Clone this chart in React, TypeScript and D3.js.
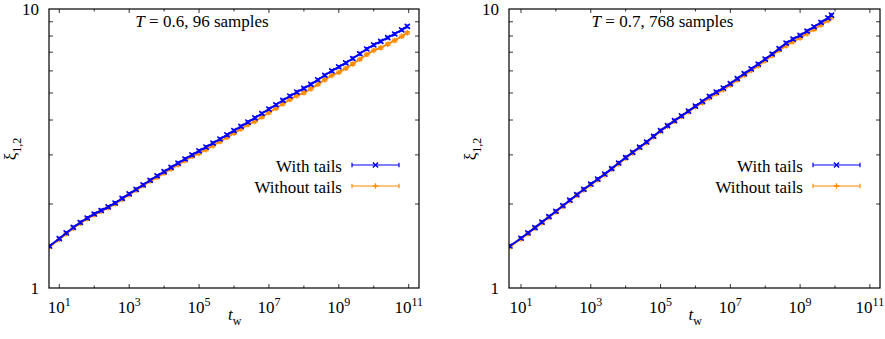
import React, { useEffect, useState } from 'react';
import * as d3 from 'd3';

// log10(t_w) positions
const leftLogTw = [0.72, 1.0, 1.2, 1.4, 1.6, 1.8, 2.0, 2.2, 2.4, 2.6, 2.8, 3.0, 3.2, 3.4, 3.6, 3.8, 4.0, 4.2, 4.4, 4.6, 4.8, 5.0, 5.2, 5.4, 5.6, 5.8, 6.0, 6.2, 6.4, 6.6, 6.8, 7.0, 7.2, 7.4, 7.6, 7.8, 8.0, 8.2, 8.4, 8.6, 8.8, 9.0, 9.2, 9.4, 9.6, 9.8, 10.0, 10.2, 10.4, 10.6, 10.8, 10.96];
const leftWithTails = [1.414, 1.504, 1.575, 1.648, 1.717, 1.782, 1.842, 1.896, 1.954, 2.017, 2.094, 2.175, 2.257, 2.344, 2.433, 2.525, 2.614, 2.706, 2.802, 2.900, 3.002, 3.100, 3.199, 3.304, 3.420, 3.541, 3.666, 3.795, 3.929, 4.071, 4.221, 4.377, 4.537, 4.703, 4.877, 5.035, 5.197, 5.370, 5.575, 5.788, 6.002, 6.206, 6.415, 6.647, 6.912, 7.189, 7.436, 7.660, 7.891, 8.136, 8.422, 8.670];
const leftWithoutTails = [1.405, 1.494, 1.565, 1.637, 1.706, 1.770, 1.830, 1.884, 1.941, 2.004, 2.080, 2.161, 2.242, 2.329, 2.417, 2.494, 2.582, 2.673, 2.768, 2.864, 2.965, 3.037, 3.134, 3.237, 3.350, 3.469, 3.591, 3.718, 3.849, 3.955, 4.101, 4.252, 4.408, 4.569, 4.738, 4.892, 5.007, 5.174, 5.371, 5.577, 5.783, 5.930, 6.130, 6.352, 6.605, 6.870, 7.106, 7.260, 7.479, 7.711, 7.982, 8.217];

const rightLogTw = [0.68, 1.0, 1.2, 1.4, 1.6, 1.8, 2.0, 2.2, 2.4, 2.6, 2.8, 3.0, 3.2, 3.4, 3.6, 3.8, 4.0, 4.2, 4.4, 4.6, 4.8, 5.0, 5.2, 5.4, 5.6, 5.8, 6.0, 6.2, 6.4, 6.6, 6.8, 7.0, 7.2, 7.4, 7.6, 7.8, 8.0, 8.2, 8.4, 8.6, 8.8, 9.0, 9.2, 9.4, 9.6, 9.8, 9.9];
const rightWithTails = [1.414, 1.508, 1.575, 1.646, 1.722, 1.801, 1.884, 1.972, 2.064, 2.160, 2.259, 2.355, 2.455, 2.560, 2.679, 2.806, 2.936, 3.065, 3.197, 3.337, 3.499, 3.666, 3.821, 3.978, 4.139, 4.306, 4.484, 4.669, 4.863, 5.033, 5.205, 5.405, 5.635, 5.870, 6.100, 6.343, 6.614, 6.898, 7.213, 7.547, 7.795, 8.042, 8.325, 8.636, 8.954, 9.292, 9.501];
const rightWithoutTails = [1.407, 1.500, 1.567, 1.638, 1.713, 1.792, 1.875, 1.962, 2.054, 2.149, 2.248, 2.343, 2.443, 2.547, 2.666, 2.792, 2.921, 3.050, 3.181, 3.320, 3.482, 3.648, 3.802, 3.958, 4.118, 4.284, 4.462, 4.612, 4.803, 4.971, 5.141, 5.339, 5.566, 5.798, 6.025, 6.265, 6.533, 6.813, 7.124, 7.393, 7.636, 7.878, 8.155, 8.460, 8.771, 9.103, 9.307];

const seriesNames = ['With tails', 'Without tails'];
const xMajorExps = [1, 3, 5, 7, 9, 11];
const xMinorExps = [2, 4, 6, 8, 10];
const yMajor = [1, 10];
const yMinor = [2, 3, 4, 5, 6, 7, 8, 9];
const titles = [{ T: '0.6', n: '96' }, { T: '0.7', n: '768' }];

const BLUE = '#0000ff';
const ORANGE = '#ff8c00';
const REL_ERR = 0.011;
const TS = { fontFamily: '"Liberation Serif"' };

type P = {
  x0: number; x1: number; y0: number; y1: number;
  xd: [number, number];
  logTw: number[]; withT: number[]; withoutT: number[];
  title: { T: string; n: string };
};

function Marker({ cx, cy, kind, color }: { cx: number; cy: number; kind: string; color: string }) {
  const s = kind === 'x' ? 2.6 : 2.8;
  if (kind === 'x') {
    return (
      <path d={`M${cx - s},${cy - s}L${cx + s},${cy + s}M${cx - s},${cy + s}L${cx + s},${cy - s}`} stroke={color} strokeWidth={1.4} fill="none" />
    );
  }
  return <path d={`M${cx - s},${cy}L${cx + s},${cy}M${cx},${cy - s}L${cx},${cy + s}`} stroke={color} strokeWidth={1.3} fill="none" />;
}

function Series({ x, y, lt, vals, color, kind, clip }: any) {
  const pts: [number, number][] = lt.map((e: number, i: number) => [Math.pow(10, e), vals[i]]);
  const line = d3.line<[number, number]>().x(d => x(d[0])).y(d => y(d[1]));
  return (
    <g clipPath={`url(#${clip})`}>
      <path d={line(pts) || ''} stroke={color} strokeWidth={2} fill="none" />
      {pts.map((d, i) => {
        const cx = x(d[0]);
        const yt = y(d[1] * (1 + REL_ERR));
        const yb = y(d[1] * (1 - REL_ERR));
        return (
          <g key={i}>
            <path d={`M${cx},${yt}L${cx},${yb}M${cx - 2.5},${yt}L${cx + 2.5},${yt}M${cx - 2.5},${yb}L${cx + 2.5},${yb}`} stroke={color} strokeWidth={1.1} fill="none" />
            <Marker cx={cx} cy={y(d[1])} kind={kind} color={color} />
          </g>
        );
      })}
    </g>
  );
}

function Panel({ p, idx }: { p: P; idx: number }) {
  const x = d3.scaleLog().domain(p.xd).range([p.x0, p.x1]);
  const y = d3.scaleLog().domain([1, 10]).range([p.y1, p.y0]);
  const clip = `clip${idx}`;
  const legX1 = p.x1 - 67;
  const legX2 = p.x1 - 20;
  const legTextX = p.x1 - 77;
  const legY = [165, 186];
  const colors = [BLUE, ORANGE];
  const kinds = ['x', '+'];
  return (
    <g>
      <defs>
        <clipPath id={clip}>
          <rect x={p.x0} y={p.y0} width={p.x1 - p.x0} height={p.y1 - p.y0} />
        </clipPath>
      </defs>
      {xMajorExps.map(e => {
        const px = x(Math.pow(10, e));
        return (
          <g key={'xM' + e}>
            <line x1={px} x2={px} y1={p.y1} y2={p.y1 - 4} stroke="#000" strokeWidth={0.8} />
            <line x1={px} x2={px} y1={p.y0} y2={p.y0 + 4} stroke="#000" strokeWidth={0.8} />
            <text x={px} y={313} textAnchor="middle" fontSize={17} fill="#000" style={TS}>
              10<tspan dy={-7} fontSize={12}>{e}</tspan>
            </text>
          </g>
        );
      })}
      {xMinorExps.map(e => {
        const px = x(Math.pow(10, e));
        return (
          <g key={'xm' + e}>
            <line x1={px} x2={px} y1={p.y1} y2={p.y1 - 2.5} stroke="#000" strokeWidth={0.8} />
            <line x1={px} x2={px} y1={p.y0} y2={p.y0 + 2.5} stroke="#000" strokeWidth={0.8} />
          </g>
        );
      })}
      {yMinor.map(v => {
        const py = y(v);
        return (
          <g key={'ym' + v}>
            <line x1={p.x0} x2={p.x0 + 4} y1={py} y2={py} stroke="#000" strokeWidth={0.8} />
            <line x1={p.x1} x2={p.x1 - 4} y1={py} y2={py} stroke="#000" strokeWidth={0.8} />
          </g>
        );
      })}
      {yMajor.map(v => (
        <text key={'yl' + v} x={p.x0 - 10} y={y(v) + 6} textAnchor="end" fontSize={17} fill="#000" style={TS}>{v}</text>
      ))}
      <Series x={x} y={y} lt={p.logTw} vals={p.withoutT} color={ORANGE} kind="+" clip={clip} />
      <Series x={x} y={y} lt={p.logTw} vals={p.withT} color={BLUE} kind="x" clip={clip} />
      <rect x={p.x0} y={p.y0} width={p.x1 - p.x0} height={p.y1 - p.y0} fill="none" stroke="#000" strokeWidth={1.2} />
      <text x={(p.x0 + p.x1) / 2 - 32} y={27} textAnchor="middle" fontSize={17} fill="#000" style={TS}>
        <tspan fontStyle="italic">T</tspan> = {p.title.T}, {p.title.n} samples
      </text>
      {seriesNames.map((n, i) => (
        <g key={n}>
          <text x={legTextX} y={legY[i] + 7} textAnchor="end" fontSize={17} fill="#000" style={TS}>{n}</text>
          <path d={`M${legX1},${legY[i]}L${legX2},${legY[i]}M${legX1},${legY[i] - 2.3}L${legX1},${legY[i] + 2.3}M${legX2},${legY[i] - 2.3}L${legX2},${legY[i] + 2.3}`} stroke={colors[i]} strokeWidth={1.2} fill="none" />
          <Marker cx={(legX1 + legX2) / 2} cy={legY[i]} kind={kinds[i]} color={colors[i]} />
        </g>
      ))}
      <text x={(p.x0 + p.x1) / 2 - 6} y={320} fontSize={17} fill="#000" style={TS}>
        <tspan fontStyle="italic">t</tspan><tspan dy={5} fontSize={12}>w</tspan>
      </text>
      <text transform={`translate(${p.x0 - 33},149) rotate(-90)`} textAnchor="middle" fontSize={17} fill="#000" style={TS}>
        <tspan>ξ</tspan><tspan dy={5} fontSize={12}>1,2</tspan>
      </text>
    </g>
  );
}

export default function App() {
  const [, setTick] = useState(0);
  useEffect(() => {
    document.body.style.margin = '0';
    const f: any = (document as any).fonts;
    if (f && f.ready) f.ready.then(() => setTick(t => t + 1));
  }, []);
  const panels: P[] = [
    { x0: 49, x1: 419, y0: 9, y1: 288, xd: [Math.pow(10, 0.705), Math.pow(10, 11.295)], logTw: leftLogTw, withT: leftWithTails, withoutT: leftWithoutTails, title: titles[0] },
    { x0: 509, x1: 880, y0: 9, y1: 288, xd: [Math.pow(10, 0.656), Math.pow(10, 11.29)], logTw: rightLogTw, withT: rightWithTails, withoutT: rightWithoutTails, title: titles[1] },
  ];
  return (
    <svg width={885} height={339} style={{ position: 'absolute', left: 0, top: 0, background: '#fff' }}>
      <style>{`text, tspan { font-family: "Liberation Serif", "Times New Roman", Tinos, serif !important; }`}</style>
      <rect x={0} y={0} width={885} height={339} fill="#fff" />
      {panels.map((p, i) => <Panel key={i} p={p} idx={i} />)}
    </svg>
  );
}
